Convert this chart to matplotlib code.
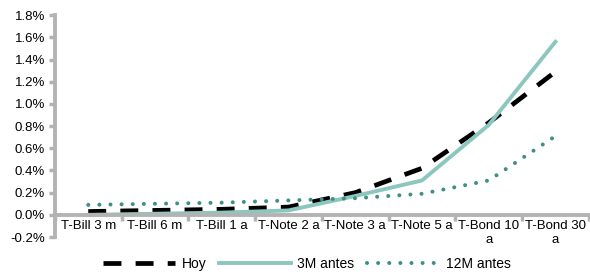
import matplotlib
matplotlib.use('Agg')
import matplotlib.pyplot as plt
from matplotlib.ticker import FuncFormatter, FixedLocator

plt.rcParams['font.family'] = ['Liberation Sans', 'DejaVu Sans']

categories = ['T-Bill 3 m', 'T-Bill 6 m', 'T-Bill 1 a', 'T-Note 2 a', 'T-Note 3 a',
              'T-Note 5 a', 'T-Bond 10\na', 'T-Bond 30\na']
hoy = [0.03, 0.04, 0.05, 0.07, 0.20, 0.42, 0.83, 1.29]
antes_3m = [0.00, 0.01, 0.02, 0.04, 0.17, 0.31, 0.81, 1.56]
antes_12m = [0.09, 0.10, 0.11, 0.13, 0.15, 0.19, 0.31, 0.71]

grey = '#B3B3B3'

fig = plt.figure(figsize=(5.9, 2.75), dpi=100)
ax = fig.add_axes([0.093, 0.138, 0.905, 0.807])

x = [i + 0.5 for i in range(len(categories))]
ax.plot(x, hoy, color='black', lw=3.4, dashes=(3.8, 3.0), label='Hoy')
ax.plot(x, antes_3m, color='#8CC7BF', lw=2.8, label='3M antes')
ax.plot(x, antes_12m, color='#3F8F87', lw=2.9, linestyle=(0, (0.01, 2.75)),
        dash_capstyle='round', label='12M antes')

ax.set_xlim(0, len(categories))
ax.set_ylim(-0.2, 1.8)
ax.set_yticks([i * 0.2 - 0.2 for i in range(11)])
ax.yaxis.set_major_formatter(FuncFormatter(lambda v, p: '%.1f%%' % v))

ax.xaxis.set_major_locator(FixedLocator(range(len(categories) + 1)))
ax.xaxis.set_major_formatter(FuncFormatter(lambda v, p: ''))
ax.xaxis.set_minor_locator(FixedLocator(x))
ax.set_xticklabels(categories, minor=True)
ax.tick_params(axis='x', which='minor', length=0, pad=4, labelsize=9.5)
ax.tick_params(axis='x', which='major', length=4, width=2.5, color=grey, direction='out')
ax.tick_params(axis='y', length=4, width=2.5, color=grey, labelsize=9.5, pad=3)

for s in ['top', 'right']:
    ax.spines[s].set_visible(False)
ax.spines['bottom'].set_position(('data', 0))
ax.spines['left'].set_color(grey)
ax.spines['bottom'].set_color(grey)
ax.spines['left'].set_linewidth(2.8)
ax.spines['bottom'].set_linewidth(2.8)

fig.legend(loc='lower center', bbox_to_anchor=(0.52, -0.03), ncol=3, frameon=False,
           handlelength=5.2, fontsize=10, columnspacing=0.9, handletextpad=0.45)

fig.savefig('out.png', dpi=100)
